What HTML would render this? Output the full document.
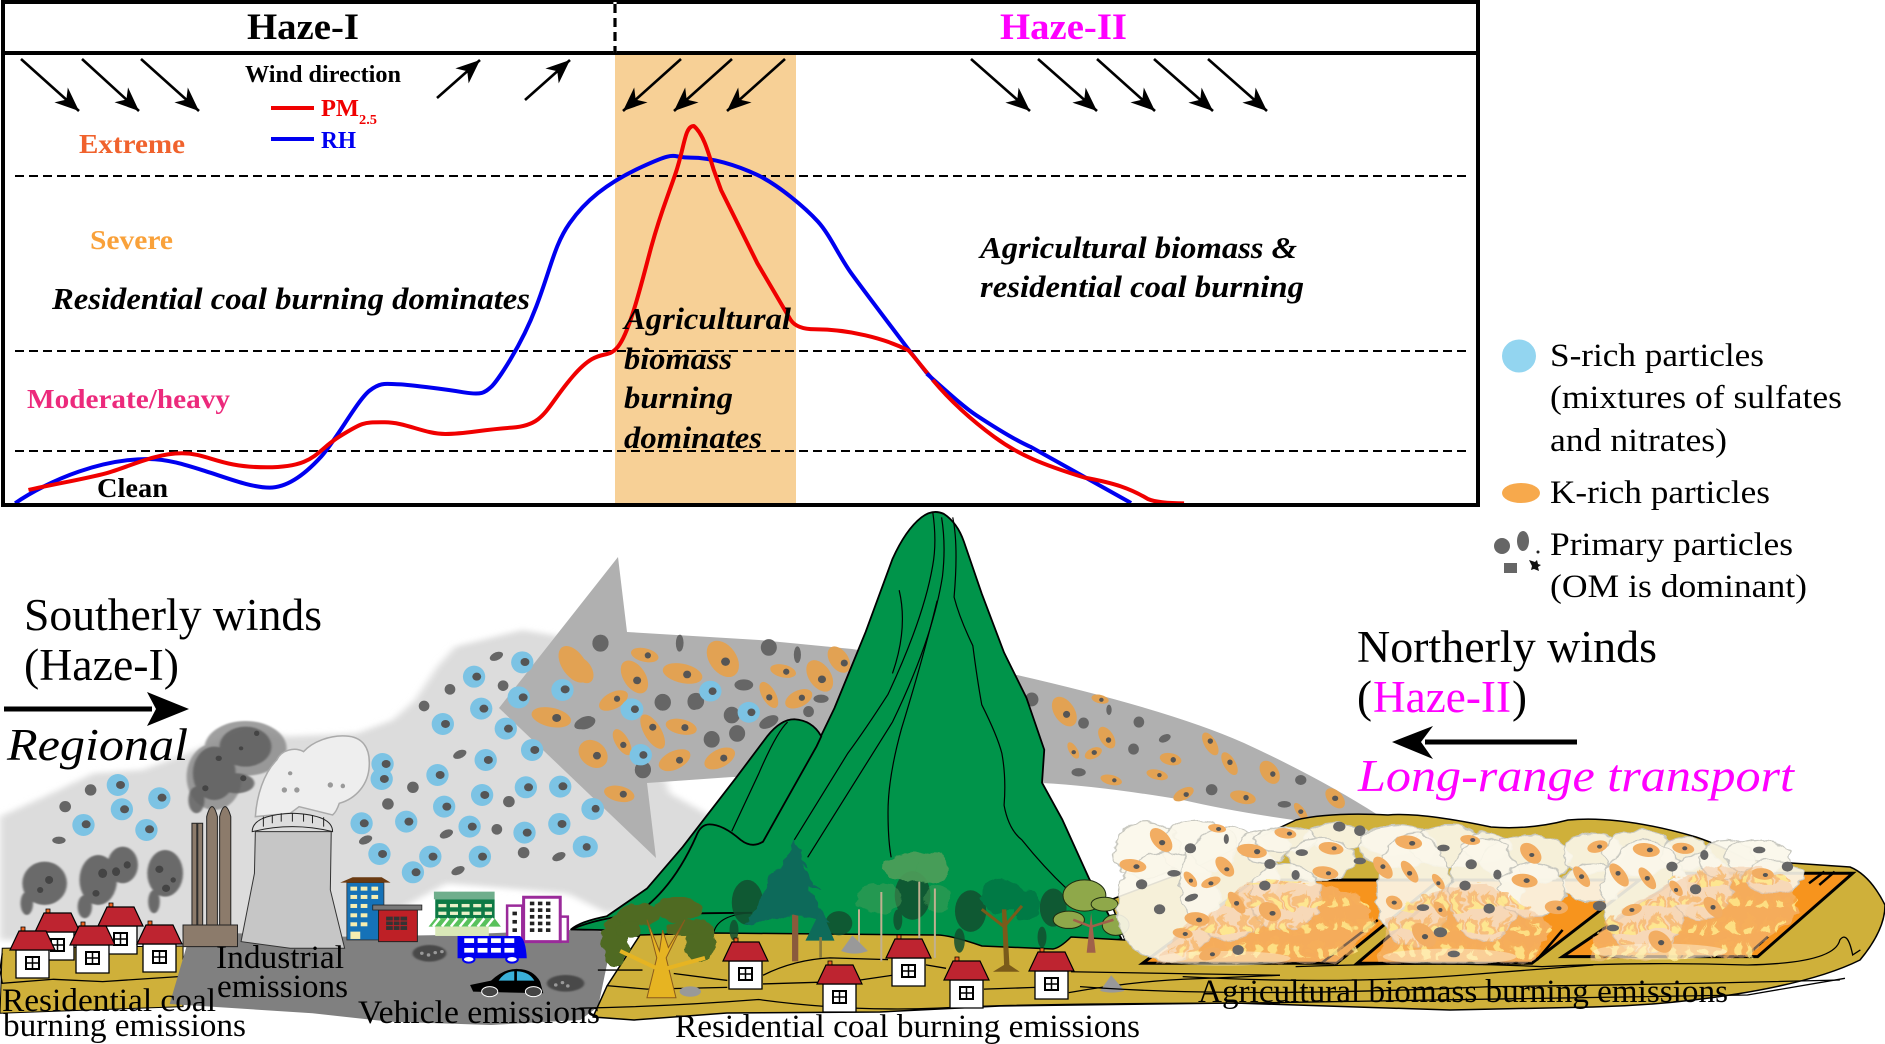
<!DOCTYPE html>
<html><head><meta charset="utf-8"><style>
html,body{margin:0;padding:0;background:#fff}
svg{display:block}
svg *{vector-effect:non-scaling-stroke}
text{font-family:"Liberation Serif",serif}
.bd{font-weight:bold}.it{font-style:italic}
.b{fill:#7cc3e4}.g{fill:#666}.k{fill:#e2a253}.d{fill:#555}.k2{fill:#f2ad62}
.ln{fill:none;stroke:#000;stroke-width:1.3}
.k ellipse,.k2 ellipse{transform-box:fill-box;transform-origin:center;transform:rotate(-22deg)}
.k ellipse.w,.k2 ellipse.w{transform:rotate(20deg)}
.k ellipse.s,.k2 ellipse.s,ellipse.s{transform-box:fill-box;transform-origin:center;transform:rotate(-40deg)}
</style></head><body>
<svg width="1885" height="1044" viewBox="0 0 1885 1044" xmlns="http://www.w3.org/2000/svg">
<defs>
<marker id="ah" markerUnits="userSpaceOnUse" markerWidth="26" markerHeight="26" refX="24" refY="13" orient="auto"><path d="M0,3 L24,13 L0,23 L7,13Z" fill="#000"/></marker>
<filter id="bl" x="-20%" y="-20%" width="140%" height="140%"><feGaussianBlur stdDeviation="9"/></filter>
<filter id="bs" x="-20%" y="-20%" width="140%" height="140%"><feGaussianBlur stdDeviation="2.5"/></filter>
<filter id="rg" x="-10%" y="-10%" width="120%" height="120%"><feTurbulence type="fractalNoise" baseFrequency=".035" numOctaves="2" seed="4"/><feDisplacementMap in="SourceGraphic" scale="22" xChannelSelector="R" yChannelSelector="G"/></filter>
<filter id="rf" x="-10%" y="-10%" width="120%" height="120%"><feTurbulence type="fractalNoise" baseFrequency=".02" numOctaves="3" seed="9"/><feDisplacementMap in="SourceGraphic" scale="55" xChannelSelector="R" yChannelSelector="G"/></filter>
<pattern id="fl" patternUnits="userSpaceOnUse" width="30" height="72"><path d="M2,72 Q0,45 10,30 Q12,45 16,20 Q20,45 24,32 Q30,50 28,72Z" fill="#f7b05a" opacity=".75"/><path d="M8,72 Q6,55 13,45 Q15,55 18,42 Q24,58 22,72Z" fill="#ffe98a"/></pattern>
<g id="h">
<rect x="6" y="19" width="33" height="28" fill="#fff" stroke="#000" stroke-width="1.3"/>
<rect x="11" y="-4" width="4" height="12" fill="#f26522" stroke="#000" stroke-width=".8"/>
<path d="M0,19 L9,0 L36,0 L45,19Z" fill="#be2430" stroke="#000" stroke-width="1.2"/>
<rect x="16" y="26" width="13" height="12" fill="#fff" stroke="#000" stroke-width="2"/>
<path d="M22.5,26V38M16,32H29" stroke="#000" stroke-width="1.5"/>
</g>
</defs>
<rect width="1885" height="1044" fill="#fff"/>

<!-- chart -->
<rect x="615" y="55" width="181" height="450" fill="#f7d096"/>
<g stroke="#000" stroke-width="2" stroke-dasharray="9 5" fill="none">
<path d="M15,176H1467M15,351H1467M15,451H1467"/>
</g>
<g transform="scale(.6059,.3333)" fill="none" stroke-linejoin="round">
<path stroke="#0000f0" stroke-width="4" d="M25,1510 C50,1478 90,1440 130,1415 S210,1377 245,1377 S315,1400 345,1417 S415,1463 445,1463 S505,1420 530,1370 S590,1200 610,1172 S640,1153 655,1153 S735,1168 765,1177 S800,1178 810,1162 S860,1040 885,920 S915,735 940,670 S1000,550 1060,500 S1105,473 1140,473 S1215,495 1250,525 S1330,625 1350,665 S1385,770 1405,820 S1475,990 1500,1050 L1530,1120"/>
<path stroke="#f00000" stroke-width="4" d="M47,1470 C90,1452 140,1437 175,1420 S255,1360 300,1360 S360,1402 440,1402 S520,1355 560,1310 S600,1267 635,1267 S700,1302 735,1302 S790,1290 845,1283 S900,1225 945,1130 S1000,1085 1020,1040 S1060,840 1075,740 S1100,600 1115,520 S1130,378 1145,378 C1160,400 1168,450 1178,510 L1190,570 L1250,790 L1305,960 Q1315,988 1345,988 C1400,988 1460,1015 1500,1052 L1540,1140"/>
</g>
<g transform="translate(940,0) scale(.6027,.3954)" fill="none" stroke-linejoin="round">
<path stroke="#0000f0" stroke-width="4" d="M-22,945 C15,995 40,1030 60,1050 S120,1110 150,1130 L317,1272"/>
<path stroke="#f00000" stroke-width="4" d="M-12,961 C15,1010 50,1060 90,1105 S170,1175 240,1208 C290,1222 315,1235 345,1262 Q362,1273 405,1273"/>
</g>
<rect x="3" y="2" width="1475" height="503" fill="none" stroke="#000" stroke-width="4"/>
<path d="M3,53H1478" stroke="#000" stroke-width="4"/>
<path d="M615,2V53" stroke="#fff" stroke-width="3.2"/>
<path d="M615,4V53" stroke="#000" stroke-width="3.2" stroke-dasharray="9 5"/>

<g stroke="#000" stroke-width="2.6">
<line x1="21" y1="59" x2="79" y2="111" marker-end="url(#ah)"/>
<line x1="82" y1="59" x2="139" y2="111" marker-end="url(#ah)"/>
<line x1="141" y1="59" x2="199" y2="111" marker-end="url(#ah)"/>
<line x1="437" y1="98" x2="480" y2="60" marker-end="url(#ah)"/>
<line x1="525" y1="100" x2="570" y2="60" marker-end="url(#ah)"/>
<line x1="681" y1="59" x2="623" y2="111" marker-end="url(#ah)"/>
<line x1="732" y1="59" x2="674" y2="111" marker-end="url(#ah)"/>
<line x1="785" y1="59" x2="727" y2="111" marker-end="url(#ah)"/>
<line x1="971" y1="59" x2="1030" y2="111" marker-end="url(#ah)"/>
<line x1="1038" y1="59" x2="1097" y2="111" marker-end="url(#ah)"/>
<line x1="1097" y1="59" x2="1155" y2="111" marker-end="url(#ah)"/>
<line x1="1154" y1="59" x2="1213" y2="111" marker-end="url(#ah)"/>
<line x1="1208" y1="59" x2="1267" y2="111" marker-end="url(#ah)"/>
</g>
<text class="bd" x="247" y="39" font-size="37" textLength="112" lengthAdjust="spacingAndGlyphs">Haze-I</text>
<text class="bd" x="1000" y="39" font-size="37" fill="#ff00ff" textLength="127" lengthAdjust="spacingAndGlyphs">Haze-II</text>
<text class="bd" x="245" y="82" font-size="24" textLength="156" lengthAdjust="spacingAndGlyphs">Wind direction</text>
<path d="M271,108H314" stroke="#f00000" stroke-width="4"/>
<path d="M271,139H314" stroke="#0000f0" stroke-width="4"/>
<text class="bd" x="321" y="116" font-size="24" fill="#f00000" textLength="38" lengthAdjust="spacingAndGlyphs">PM</text>
<text class="bd" x="359" y="124" font-size="14" fill="#f00000" textLength="18" lengthAdjust="spacingAndGlyphs">2.5</text>
<text class="bd" x="321" y="148" font-size="24" fill="#0000f0" textLength="35" lengthAdjust="spacingAndGlyphs">RH</text>
<text class="bd" x="79" y="153" font-size="27" fill="#f0622d" textLength="106" lengthAdjust="spacingAndGlyphs">Extreme</text>
<text class="bd" x="90" y="249" font-size="27" fill="#f9a13a" textLength="83" lengthAdjust="spacingAndGlyphs">Severe</text>
<text class="bd" x="27" y="408" font-size="27" fill="#ec2a7c" textLength="203" lengthAdjust="spacingAndGlyphs">Moderate/heavy</text>
<text class="bd" x="97" y="497" font-size="27" textLength="71" lengthAdjust="spacingAndGlyphs">Clean</text>
<g class="bd it" font-size="31">
<text class="bd it" x="52" y="309" textLength="478" lengthAdjust="spacingAndGlyphs">Residential coal burning dominates</text>
<text class="bd it" x="624" y="329" textLength="167" lengthAdjust="spacingAndGlyphs">Agricultural</text>
<text class="bd it" x="624" y="369" textLength="108" lengthAdjust="spacingAndGlyphs">biomass</text>
<text class="bd it" x="624" y="408" textLength="109" lengthAdjust="spacingAndGlyphs">burning</text>
<text class="bd it" x="624" y="448" textLength="138" lengthAdjust="spacingAndGlyphs">dominates</text>
<text class="bd it" x="980" y="258" textLength="317" lengthAdjust="spacingAndGlyphs">Agricultural biomass &amp;</text>
<text class="bd it" x="980" y="297" textLength="324" lengthAdjust="spacingAndGlyphs">residential coal burning</text>
</g>

<!-- legend -->
<ellipse cx="1519" cy="356" rx="17" ry="16.5" fill="#93d5f0"/>
<ellipse cx="1521" cy="493" rx="19" ry="10" fill="#f7a94c"/>
<ellipse cx="1502" cy="546" rx="8" ry="8" fill="#666"/>
<ellipse cx="1523" cy="541" rx="6" ry="10" fill="#666"/>
<circle cx="1538" cy="552" r="1.5" fill="#222"/>
<rect x="1504" y="563" width="13" height="10" fill="#666"/>
<path d="M1529,560l6,2 2,-2 1,4 3,1 -3,2 1,4 -5,-2 -3,1 1,-4z" fill="#111"/>
<g font-size="33">
<text x="1550" y="366" textLength="214" lengthAdjust="spacingAndGlyphs">S-rich particles</text>
<text x="1550" y="408" textLength="292" lengthAdjust="spacingAndGlyphs">(mixtures of sulfates</text>
<text x="1550" y="451" textLength="177" lengthAdjust="spacingAndGlyphs">and nitrates)</text>
<text x="1550" y="503" textLength="220" lengthAdjust="spacingAndGlyphs">K-rich particles</text>
<text x="1550" y="555" textLength="243" lengthAdjust="spacingAndGlyphs">Primary particles</text>
<text x="1550" y="597" textLength="257" lengthAdjust="spacingAndGlyphs">(OM is dominant)</text>
</g>

<!-- haze -->
<g transform="translate(0,540) scale(.4464,.3333)">
<polygon filter="url(#bl)" fill="#dcdcdc" points="0,830 100,770 210,700 320,690 420,640 560,560 640,590 800,580 880,540 930,480 980,380 1020,320 1170,270 1300,300 1420,450 1500,760 1620,850 1640,1010 1500,1080 1360,1120 1270,1060 1000,1030 770,1200 400,1200 0,1200"/>
</g>
<path d="M499,708 L618,557 L627,632 L759,640 L852,649 L1017,675 Q1170,710 1244,743 Q1320,778 1378,815 L1378,830 Q1260,818 1183,800 Q1100,786 1042,783 L900,777 L732,777 L647,783 L656,858Z" fill="#b0b0b0"/>

<!-- particles left -->
<g transform="translate(0,540) scale(.4464,.3333)">
<g class="g">
<ellipse cx="203" cy="750" rx="13" ry="17"/><ellipse cx="146" cy="800" rx="13" ry="17"/><ellipse cx="132" cy="901" rx="15" ry="11"/><ellipse cx="1008" cy="448" rx="12" ry="16"/><ellipse cx="950" cy="498" rx="12" ry="16"/><ellipse cx="1127" cy="437" rx="12" ry="16"/><ellipse class="s" cx="1112" cy="349" rx="17" ry="11"/><ellipse class="s" cx="1030" cy="643" rx="17" ry="11"/><ellipse cx="925" cy="742" rx="13" ry="17"/><ellipse cx="869" cy="792" rx="13" ry="17"/><ellipse cx="1140" cy="785" rx="13" ry="17"/><ellipse cx="1113" cy="868" rx="12" ry="16"/><ellipse class="s" cx="1000" cy="882" rx="17" ry="11"/><ellipse class="s" cx="819" cy="900" rx="17" ry="11"/><ellipse cx="1173" cy="938" rx="13" ry="17"/><ellipse class="s" cx="1252" cy="950" rx="17" ry="11"/><ellipse class="s" cx="1026" cy="992" rx="17" ry="11"/>
<ellipse cx="1345" cy="310" rx="18" ry="25"/><ellipse cx="1522" cy="310" rx="8" ry="25"/><ellipse cx="1485" cy="487" rx="18" ry="25"/><ellipse class="s" cx="1308" cy="548" rx="25" ry="15"/><ellipse cx="1555" cy="485" rx="15" ry="25"/>
</g>
<g class="k">
<ellipse cx="1285" cy="373" rx="28" ry="58"/><ellipse class="w" cx="1443" cy="345" rx="30" ry="18"/><ellipse cx="1420" cy="410" rx="24" ry="50"/><ellipse class="w" cx="1525" cy="400" rx="42" ry="25"/><ellipse class="s" cx="1375" cy="480" rx="36" ry="20"/><ellipse class="w" cx="1235" cy="532" rx="46" ry="28"/><ellipse cx="1462" cy="575" rx="20" ry="55"/><ellipse class="w" cx="1525" cy="560" rx="35" ry="22"/><ellipse cx="1393" cy="607" rx="15" ry="40"/><ellipse cx="1328" cy="642" rx="30" ry="42"/><ellipse class="s" cx="1510" cy="660" rx="40" ry="24"/><ellipse class="w" cx="1387" cy="762" rx="35" ry="21"/>
</g>
<g class="d">
<ellipse cx="1293" cy="384" rx="10" ry="13"/><ellipse cx="1451" cy="346" rx="7" ry="9"/><ellipse cx="1427" cy="422" rx="10" ry="12"/><ellipse cx="1539" cy="402" rx="10" ry="12"/><ellipse cx="1382" cy="477" rx="8" ry="10"/><ellipse cx="1247" cy="534" rx="10" ry="12"/><ellipse cx="1462" cy="562" rx="8" ry="10"/><ellipse cx="1538" cy="558" rx="8" ry="10"/><ellipse cx="1396" cy="614" rx="7" ry="9"/><ellipse cx="1337" cy="648" rx="9" ry="12"/><ellipse cx="1522" cy="660" rx="8" ry="10"/><ellipse cx="1396" cy="763" rx="8" ry="10"/>
</g>
<g class="b">
<ellipse cx="264" cy="735" rx="25" ry="33"/><ellipse cx="357" cy="775" rx="25" ry="33"/><ellipse cx="273" cy="808" rx="25" ry="33"/><ellipse cx="187" cy="855" rx="25" ry="33"/><ellipse cx="328" cy="870" rx="25" ry="33"/><ellipse cx="1170" cy="367" rx="25" ry="33"/><ellipse cx="1062" cy="410" rx="25" ry="33"/><ellipse cx="1162" cy="472" rx="25" ry="33"/><ellipse cx="1260" cy="450" rx="25" ry="33"/><ellipse cx="1078" cy="506" rx="25" ry="33"/><ellipse cx="992" cy="552" rx="25" ry="33"/><ellipse cx="1133" cy="566" rx="25" ry="33"/><ellipse cx="1192" cy="630" rx="25" ry="33"/><ellipse cx="1088" cy="660" rx="25" ry="33"/><ellipse cx="980" cy="705" rx="25" ry="33"/><ellipse cx="1080" cy="765" rx="25" ry="33"/><ellipse cx="1255" cy="740" rx="25" ry="33"/><ellipse cx="995" cy="800" rx="25" ry="33"/><ellipse cx="1178" cy="742" rx="25" ry="33"/><ellipse cx="1052" cy="860" rx="25" ry="33"/><ellipse cx="1253" cy="852" rx="25" ry="33"/><ellipse cx="1175" cy="878" rx="25" ry="33"/><ellipse cx="910" cy="845" rx="25" ry="33"/><ellipse cx="810" cy="850" rx="25" ry="33"/><ellipse cx="850" cy="942" rx="25" ry="33"/><ellipse cx="964" cy="950" rx="25" ry="33"/><ellipse cx="1075" cy="950" rx="25" ry="33"/><ellipse cx="925" cy="997" rx="25" ry="33"/><ellipse cx="1308" cy="920" rx="25" ry="33"/><ellipse cx="1328" cy="807" rx="25" ry="33"/><ellipse cx="1415" cy="508" rx="25" ry="33"/><ellipse cx="1435" cy="645" rx="25" ry="33"/><ellipse cx="857" cy="672" rx="25" ry="33"/><ellipse cx="855" cy="717" rx="25" ry="33"/>
</g>
<ellipse cx="1440" cy="690" rx="18" ry="25" class="g"/>
<g class="d">
<ellipse cx="270" cy="735" rx="10" ry="12"/><ellipse cx="363" cy="773" rx="10" ry="12"/><ellipse cx="279" cy="808" rx="10" ry="12"/><ellipse cx="193" cy="853" rx="10" ry="12"/><ellipse cx="335" cy="868" rx="10" ry="12"/><ellipse cx="1176" cy="366" rx="10" ry="12"/><ellipse cx="1068" cy="410" rx="10" ry="12"/><ellipse cx="1172" cy="472" rx="10" ry="12"/><ellipse cx="1266" cy="448" rx="10" ry="12"/><ellipse cx="1084" cy="506" rx="10" ry="12"/><ellipse cx="998" cy="552" rx="10" ry="12"/><ellipse cx="1139" cy="566" rx="10" ry="12"/><ellipse cx="1198" cy="630" rx="10" ry="12"/><ellipse cx="1094" cy="660" rx="10" ry="12"/><ellipse cx="986" cy="705" rx="10" ry="12"/><ellipse cx="1086" cy="765" rx="10" ry="12"/><ellipse cx="1261" cy="739" rx="10" ry="12"/><ellipse cx="1001" cy="800" rx="10" ry="12"/><ellipse cx="1184" cy="742" rx="10" ry="12"/><ellipse cx="1058" cy="860" rx="10" ry="12"/><ellipse cx="1259" cy="852" rx="10" ry="12"/><ellipse cx="1181" cy="878" rx="10" ry="12"/><ellipse cx="916" cy="845" rx="10" ry="12"/><ellipse cx="816" cy="850" rx="10" ry="12"/><ellipse cx="857" cy="942" rx="10" ry="12"/><ellipse cx="970" cy="950" rx="10" ry="12"/><ellipse cx="1081" cy="950" rx="10" ry="12"/><ellipse cx="932" cy="997" rx="10" ry="12"/><ellipse cx="1314" cy="920" rx="10" ry="12"/><ellipse cx="1334" cy="807" rx="10" ry="12"/><ellipse cx="1423" cy="508" rx="10" ry="12"/><ellipse cx="1441" cy="645" rx="10" ry="12"/><ellipse cx="865" cy="672" rx="10" ry="12"/><ellipse cx="861" cy="717" rx="10" ry="12"/>
</g>
</g>

<!-- particles on arrow -->
<g transform="translate(580,500) scale(.4464,.3469)">
<g class="g">
<ellipse cx="46" cy="412" rx="18" ry="24"/><ellipse cx="224" cy="412" rx="8" ry="24"/><ellipse cx="423" cy="425" rx="18" ry="24"/><ellipse cx="487" cy="446" rx="8" ry="24"/><ellipse cx="367" cy="533" rx="21" ry="16"/><ellipse cx="185" cy="583" rx="18" ry="24"/><ellipse cx="260" cy="580" rx="18" ry="24"/><ellipse cx="540" cy="573" rx="17" ry="12"/><ellipse cx="512" cy="610" rx="12" ry="16"/><ellipse cx="340" cy="620" rx="18" ry="24"/><ellipse class="s" cx="423" cy="640" rx="25" ry="15"/><ellipse cx="352" cy="673" rx="18" ry="24"/><ellipse cx="295" cy="690" rx="18" ry="24"/><ellipse cx="141" cy="777" rx="18" ry="24"/><ellipse class="s" cx="15" cy="643" rx="22" ry="15"/>
<ellipse cx="1012" cy="575" rx="15" ry="20"/><ellipse cx="1185" cy="605" rx="6" ry="15"/><ellipse cx="1128" cy="643" rx="12" ry="16"/><ellipse cx="1252" cy="640" rx="12" ry="16"/><ellipse class="s" cx="1310" cy="687" rx="15" ry="10"/><ellipse cx="1240" cy="718" rx="12" ry="16"/><ellipse cx="1117" cy="785" rx="16" ry="12"/><ellipse cx="1415" cy="835" rx="13" ry="16"/>
</g>
<g class="k">
<ellipse class="w" cx="145" cy="447" rx="32" ry="19"/><ellipse cx="122" cy="510" rx="26" ry="50"/><ellipse class="w" cx="230" cy="500" rx="46" ry="27"/><ellipse cx="320" cy="458" rx="32" ry="55"/><ellipse class="w" cx="455" cy="493" rx="30" ry="18"/><ellipse cx="537" cy="507" rx="26" ry="48"/><ellipse cx="580" cy="460" rx="22" ry="40"/><ellipse class="s" cx="75" cy="578" rx="38" ry="22"/><ellipse cx="163" cy="668" rx="20" ry="52"/><ellipse class="w" cx="228" cy="654" rx="35" ry="21"/><ellipse cx="95" cy="698" rx="15" ry="40"/><ellipse cx="30" cy="732" rx="30" ry="42"/><ellipse class="s" cx="213" cy="750" rx="40" ry="24"/><ellipse class="s" cx="313" cy="745" rx="40" ry="24"/><ellipse class="w" cx="88" cy="847" rx="35" ry="22"/><ellipse cx="423" cy="562" rx="16" ry="40"/><ellipse class="s" cx="490" cy="573" rx="35" ry="22"/><ellipse cx="5" cy="490" rx="22" ry="40"/>
<ellipse cx="1085" cy="610" rx="24" ry="45"/><ellipse class="w" cx="1165" cy="574" rx="20" ry="12"/><ellipse cx="1180" cy="685" rx="16" ry="33"/><ellipse cx="1105" cy="722" rx="10" ry="25"/><ellipse class="s" cx="1150" cy="730" rx="22" ry="14"/><ellipse cx="1412" cy="703" rx="14" ry="35"/><ellipse class="w" cx="1323" cy="747" rx="25" ry="17"/><ellipse cx="1455" cy="760" rx="14" ry="35"/><ellipse cx="1545" cy="785" rx="20" ry="35"/><ellipse class="w" cx="1190" cy="807" rx="25" ry="14"/><ellipse class="w" cx="1293" cy="792" rx="25" ry="14"/><ellipse class="s" cx="1352" cy="848" rx="27" ry="15"/><ellipse class="w" cx="1485" cy="857" rx="30" ry="18"/>
</g>
<g class="b">
<ellipse cx="292" cy="551" rx="25" ry="30"/><ellipse cx="117" cy="603" rx="25" ry="30"/><ellipse cx="378" cy="612" rx="25" ry="30"/><ellipse cx="136" cy="735" rx="25" ry="30"/><ellipse cx="28" cy="890" rx="25" ry="30"/><ellipse cx="15" cy="1000" rx="25" ry="30"/>
</g>
<g class="d">
<ellipse cx="152" cy="448" rx="7" ry="9"/><ellipse cx="128" cy="520" rx="9" ry="11"/><ellipse cx="240" cy="503" rx="9" ry="11"/><ellipse cx="326" cy="466" rx="10" ry="12"/><ellipse cx="462" cy="495" rx="7" ry="9"/><ellipse cx="542" cy="517" rx="9" ry="11"/><ellipse cx="592" cy="470" rx="8" ry="10"/><ellipse cx="83" cy="573" rx="7" ry="9"/><ellipse cx="163" cy="655" rx="8" ry="10"/><ellipse cx="235" cy="656" rx="8" ry="10"/><ellipse cx="97" cy="706" rx="7" ry="9"/><ellipse cx="38" cy="737" rx="9" ry="11"/><ellipse cx="223" cy="750" rx="8" ry="10"/><ellipse cx="322" cy="744" rx="8" ry="10"/><ellipse cx="97" cy="848" rx="8" ry="10"/><ellipse cx="424" cy="569" rx="7" ry="9"/><ellipse cx="497" cy="570" rx="7" ry="9"/>
<ellipse cx="297" cy="551" rx="9" ry="11"/><ellipse cx="123" cy="603" rx="9" ry="11"/><ellipse cx="384" cy="612" rx="9" ry="11"/><ellipse cx="142" cy="735" rx="9" ry="11"/><ellipse cx="35" cy="890" rx="9" ry="11"/><ellipse cx="15" cy="1000" rx="9" ry="11"/>
<ellipse cx="1090" cy="618" rx="8" ry="10"/><ellipse cx="1168" cy="576" rx="5" ry="6"/><ellipse cx="1184" cy="692" rx="6" ry="8"/><ellipse cx="1106" cy="727" rx="5" ry="6"/><ellipse cx="1152" cy="728" rx="6" ry="7"/><ellipse cx="1412" cy="695" rx="6" ry="8"/><ellipse cx="1329" cy="749" rx="6" ry="8"/><ellipse cx="1456" cy="756" rx="6" ry="8"/><ellipse cx="1552" cy="790" rx="6" ry="8"/><ellipse cx="1197" cy="808" rx="5" ry="6"/><ellipse cx="1298" cy="793" rx="5" ry="6"/><ellipse cx="1358" cy="849" rx="6" ry="7"/><ellipse cx="1492" cy="858" rx="6" ry="8"/>
</g>
</g>
<g transform="translate(1080,620) scale(.5134,.3333)">
<g class="k"><ellipse cx="497" cy="535" rx="16" ry="32"/><ellipse cx="430" cy="575" rx="9" ry="28"/></g>
<ellipse cx="430" cy="480" rx="11" ry="15" class="g"/><ellipse cx="398" cy="553" rx="13" ry="10" class="g"/>
<ellipse cx="497" cy="535" rx="6" ry="8" class="d"/><ellipse cx="430" cy="575" rx="5" ry="7" class="d"/>
</g>

<!-- industrial and stacks -->
<g transform="translate(0,540) scale(.4464,.3333)">
<!-- dark smoke -->
<g fill="#888" opacity=".8" filter="url(#bs)">
<ellipse cx="550" cy="625" rx="92" ry="82"/><ellipse cx="480" cy="710" rx="62" ry="100"/>
</g>
<g fill="#5e5e5e" opacity=".85" filter="url(#bs)">
<ellipse cx="550" cy="620" rx="58" ry="60"/><ellipse cx="480" cy="700" rx="48" ry="80"/><ellipse cx="440" cy="780" rx="18" ry="40"/><ellipse cx="530" cy="730" rx="40" ry="30"/>
</g>
<g fill="#6a6a6a" filter="url(#bs)">
<ellipse cx="100" cy="1030" rx="50" ry="65"/><ellipse cx="60" cy="1090" rx="14" ry="35"/>
<ellipse cx="220" cy="1020" rx="42" ry="75"/><ellipse cx="275" cy="975" rx="34" ry="55"/><ellipse cx="190" cy="1100" rx="16" ry="35"/>
<ellipse cx="370" cy="1000" rx="40" ry="70"/><ellipse cx="345" cy="1085" rx="13" ry="35"/>
</g>
<g fill="#444">
<ellipse cx="575" cy="580" rx="6" ry="8"/><ellipse cx="540" cy="625" rx="5" ry="6"/><ellipse cx="490" cy="655" rx="7" ry="8"/><ellipse cx="545" cy="715" rx="7" ry="9"/><ellipse cx="460" cy="745" rx="7" ry="9"/>
<ellipse cx="110" cy="1020" rx="9" ry="12"/><ellipse cx="90" cy="1050" rx="7" ry="9"/><ellipse cx="230" cy="1000" rx="10" ry="14"/><ellipse cx="260" cy="995" rx="9" ry="13"/><ellipse cx="285" cy="975" rx="8" ry="11"/><ellipse cx="215" cy="1060" rx="8" ry="10"/><ellipse cx="357" cy="988" rx="9" ry="11"/><ellipse cx="372" cy="1045" rx="9" ry="11"/><ellipse cx="388" cy="1020" rx="6" ry="8"/>
</g>
<!-- steam -->
<path d="M572,830 C575,770 590,700 620,660 C630,630 660,620 680,635 C700,605 740,585 775,588 C810,590 830,620 827,680 C825,730 800,775 760,790 C755,810 750,820 745,825 L670,800 L650,820Z" fill="#eeeeee" stroke="#aaa" stroke-width="1.5"/>
<g fill="#999"><ellipse cx="637" cy="750" rx="6" ry="8"/><ellipse cx="665" cy="750" rx="6" ry="8"/><ellipse cx="740" cy="735" rx="6" ry="8"/><ellipse cx="768" cy="738" rx="5" ry="7"/><ellipse cx="650" cy="700" rx="5" ry="6"/></g>
<!-- ground left -->
<path d="M5,1225 L410,1218 L410,1400 L0,1420Z" fill="#cfb03a" stroke="#000" stroke-width="1"/>
<polyline class="ln" points="5,1240 0,1290 5,1330 120,1318 230,1325 400,1310"/>
<!-- road -->
<path d="M420,1210 L530,1180 L770,1190 L1000,1185 L1280,1170 L1375,1175 L1340,1400 L1300,1440 L1100,1455 L870,1445 L700,1420 L380,1392Z" fill="#808080"/>
<!-- stacks -->
<g fill="#8c7b6b" stroke="#222" stroke-width="1">
<rect x="430" y="850" width="11" height="310"/><rect x="443" y="850" width="11" height="310"/>
<path d="M463,1160 L463,830 Q475,770 487,830 L487,1160Z"/><path d="M492,1160 L492,830 Q504,770 517,830 L517,1160Z"/>
<rect x="410" y="1155" width="122" height="65"/>
</g>
<!-- tower -->
<path d="M572,875 L570,1000 L540,1205 L650,1225 L772,1225 L740,1050 L742,875Z" fill="#c6c6c6" stroke="#333" stroke-width="1"/>
<path d="M565,875 Q565,825 655,820 Q745,825 745,875 Q655,845 565,875Z" fill="#ddd" stroke="#222" stroke-width="1"/>
<path d="M590,860V830M610,850V825M630,845V820M655,845V820M680,845V822M700,850V825M725,860V832" stroke="#222" stroke-width="1"/>
<!-- blue building -->
<rect x="777" y="1028" width="83" height="172" fill="#1572b8" stroke="#333" stroke-width=".8"/>
<path d="M762,1028 L790,1012 L855,1012 L875,1028Z" fill="#6b3b12"/>
<g fill="#f6edb0"><rect x="785" y="1040" width="15" height="12"/><rect x="808" y="1040" width="15" height="12"/><rect x="832" y="1040" width="15" height="12"/><rect x="785" y="1065" width="15" height="12"/><rect x="808" y="1065" width="15" height="12"/><rect x="832" y="1065" width="15" height="12"/><rect x="785" y="1092" width="15" height="12"/><rect x="808" y="1092" width="15" height="12"/><rect x="785" y="1120" width="15" height="12"/><rect x="808" y="1120" width="15" height="12"/><rect x="785" y="1147" width="15" height="12"/><rect x="808" y="1147" width="15" height="12"/><rect x="785" y="1175" width="22" height="22"/></g>
<!-- red building -->
<rect x="848" y="1110" width="87" height="95" fill="#be2026" stroke="#222" stroke-width="1"/>
<rect x="835" y="1095" width="110" height="15" fill="#777" stroke="#222" stroke-width=".8"/>
<rect x="865" y="1130" width="47" height="40" fill="#333"/>
<path d="M865,1143H912M865,1157H912M881,1130V1170M896,1130V1170" stroke="#be2026" stroke-width="1"/>
<!-- green building -->
<rect x="972" y="1055" width="136" height="23" fill="#6fae8c"/>
<rect x="975" y="1078" width="133" height="57" fill="#0d7a45"/>
<g fill="#e9f0c8"><rect x="982" y="1092" width="18" height="10"/><rect x="1008" y="1092" width="18" height="10"/><rect x="1034" y="1092" width="18" height="10"/><rect x="1060" y="1092" width="18" height="10"/><rect x="1086" y="1092" width="16" height="10"/><rect x="982" y="1115" width="18" height="10"/><rect x="1008" y="1115" width="18" height="10"/><rect x="1034" y="1115" width="18" height="10"/><rect x="1060" y="1115" width="18" height="10"/><rect x="1086" y="1115" width="16" height="10"/></g>
<path d="M960,1160 L975,1135 L1108,1135 L1122,1160Z" fill="#58c15c"/>
<path d="M985,1135L970,1160M1005,1135L990,1160M1025,1135L1010,1160M1045,1135L1030,1160M1065,1135L1050,1160M1085,1135L1070,1160M1105,1135L1090,1160" stroke="#fff" stroke-width="2.5"/>
<rect x="975" y="1160" width="120" height="28" fill="#d9e8b8"/>
<!-- purple -->
<rect x="1136" y="1097" width="34" height="108" fill="#fff" stroke="#9a2a9a" stroke-width="2.5"/>
<rect x="1255" y="1130" width="17" height="75" fill="#fff" stroke="#9a2a9a" stroke-width="2.5"/>
<rect x="1173" y="1072" width="82" height="133" fill="#fff" stroke="#9a2a9a" stroke-width="3"/>
<g fill="#222"><rect x="1187" y="1085" width="10" height="11"/><rect x="1205" y="1085" width="10" height="11"/><rect x="1223" y="1085" width="10" height="11"/><rect x="1187" y="1105" width="10" height="11"/><rect x="1205" y="1105" width="10" height="11"/><rect x="1223" y="1105" width="10" height="11"/><rect x="1187" y="1125" width="10" height="11"/><rect x="1205" y="1125" width="10" height="11"/><rect x="1223" y="1125" width="10" height="11"/><rect x="1187" y="1145" width="10" height="11"/><rect x="1205" y="1145" width="10" height="11"/><rect x="1223" y="1145" width="10" height="11"/><rect x="1187" y="1165" width="10" height="11"/><rect x="1205" y="1165" width="10" height="11"/><rect x="1223" y="1165" width="10" height="11"/><rect x="1148" y="1115" width="10" height="11"/><rect x="1148" y="1140" width="10" height="11"/><rect x="1148" y="1165" width="10" height="11"/></g>
<!-- bus -->
<path d="M1025,1188 H1165 Q1178,1200 1180,1255 H1025Z" fill="#0000f0"/>
<g fill="#fff"><rect x="1040" y="1195" width="22" height="14"/><rect x="1070" y="1195" width="22" height="14"/><rect x="1100" y="1195" width="22" height="14"/><rect x="1130" y="1195" width="22" height="14"/><rect x="1040" y="1224" width="22" height="14"/><rect x="1070" y="1224" width="22" height="14"/><rect x="1100" y="1224" width="22" height="14"/><rect x="1130" y="1224" width="22" height="14"/></g>
<ellipse cx="1050" cy="1258" rx="13" ry="10" fill="#fff" stroke="#0000f0" stroke-width="2"/><ellipse cx="1147" cy="1258" rx="13" ry="10" fill="#fff" stroke="#0000f0" stroke-width="2"/>
<!-- car -->
<path d="M1053,1335 L1100,1322 Q1130,1285 1160,1287 Q1195,1288 1210,1325 L1217,1360 L1060,1355Z" fill="#000"/>
<path d="M1117,1322 Q1130,1295 1152,1294 V1322Z M1158,1294 Q1185,1295 1197,1322 H1158Z" fill="#3ab0d8"/>
<ellipse cx="1097" cy="1355" rx="18" ry="15" fill="#444" stroke="#fff" stroke-width="1"/><ellipse cx="1195" cy="1355" rx="18" ry="15" fill="#444" stroke="#fff" stroke-width="1"/>
<!-- exhaust -->
<ellipse cx="962" cy="1240" rx="38" ry="25" fill="#4a4a4a" filter="url(#bs)"/>
<ellipse cx="1267" cy="1330" rx="42" ry="25" fill="#4a4a4a" filter="url(#bs)"/>
<g fill="#999"><ellipse cx="945" cy="1240" rx="4" ry="5"/><ellipse cx="960" cy="1245" rx="4" ry="5"/><ellipse cx="975" cy="1238" rx="4" ry="5"/><ellipse cx="990" cy="1235" rx="4" ry="5"/><ellipse cx="1245" cy="1335" rx="4" ry="5"/><ellipse cx="1260" cy="1328" rx="4" ry="5"/><ellipse cx="1272" cy="1338" rx="4" ry="5"/></g>
</g>

<!-- mountain, ground, trees -->
<g transform="translate(580,500) scale(.4464,.3469)">
<path d="M-20,1238 Q0,1215 60,1200 L150,1120 L230,1000 L290,900 L350,800 L420,680 Q450,632 480,632 Q520,635 540,680 L570,600 L640,380 L700,170 Q730,85 765,50 Q790,25 815,40 Q845,65 860,120 L900,270 L950,440 L1000,570 L1040,720 L1035,815 L1080,920 L1140,1090 L1213,1265 L1100,1300 L300,1300 L60,1240Z" fill="#00944a" stroke="#000" stroke-width="1.8" stroke-linejoin="round"/>
<g fill="none" stroke="#000" stroke-width="1.2">
<path stroke-width="1.8" d="M150,1170 Q215,1100 260,970 Q270,935 290,935 Q320,935 360,980 Q385,1005 410,985 L460,870 L530,710 L541,680"/>
<path d="M340,955 L400,790 Q440,670 465,640"/>
<path d="M790,33 Q800,120 790,190 Q770,340 690,560 Q640,660 600,730 L480,980"/>
<path d="M810,50 Q820,130 812,220 Q790,400 700,640 L510,1030"/>
<path d="M715,260 Q735,370 700,500"/>
<path d="M835,50 Q848,130 838,280 Q850,340 880,420 Q890,520 900,590 Q935,680 945,730 Q955,800 950,880 Q960,950 990,980 Q1040,1060 1090,1120"/>
<path d="M800,290 Q770,450 720,660 Q690,800 690,900 Q690,980 697,1030"/>
<path stroke-width="1.8" d="M-20,1238 Q60,1195 160,1195 Q300,1190 385,1190"/>
<path d="M300,1245 Q310,1195 385,1190"/>
</g>
</g>
<path d="M607,986 L593,1017 L634,1020 L727,1013 L880,1012 L1000,1006 L1234,1003 L1450,1010 L1593,1007 C1680,1005 1800,990 1860,960 Q1885,930 1885,905 Q1870,875 1850,867 L1747,860 Q1720,845 1696,837 Q1620,815 1568,820 Q1530,830 1491,827 Q1420,812 1388,815 Q1330,812 1296,820 L1190,870 L1110,900 L1125,940 L1071,937 Q1060,948 1053,949 L982,946 Q950,935 937,935 L714,933 L640,935Z" fill="#cfb03a" stroke="#000" stroke-width="1.5" stroke-linejoin="round"/>
<g transform="translate(580,500) scale(.4464,.3469)">
<polyline class="ln" points="40,1355 140,1355"/><polyline class="ln" points="210,1365 330,1385"/><polyline class="ln" points="60,1400 150,1410 330,1405"/><path class="ln" d="M410,1370 Q480,1325 560,1320 L690,1325"/><polyline class="ln" points="410,1395 540,1390"/><polyline class="ln" points="620,1385 700,1370"/><polyline class="ln" points="775,1340 820,1350"/><polyline class="ln" points="905,1410 1020,1405"/><path class="ln" d="M1095,1420 Q1250,1385 1380,1380 L1568,1370"/><path class="ln" d="M0,1465 Q200,1460 400,1440 Q600,1475 800,1465 Q1000,1450 1568,1450"/><polyline class="ln" points="1100,1360 1568,1370"/>
<!-- tree yellow -->
<g fill="#4f6b24" filter="url(#rg)"><ellipse cx="80" cy="1270" rx="30" ry="75"/><ellipse cx="130" cy="1195" rx="50" ry="32"/><ellipse cx="220" cy="1180" rx="55" ry="35"/><ellipse cx="270" cy="1270" rx="35" ry="60"/><ellipse cx="230" cy="1235" rx="40" ry="22"/><ellipse cx="110" cy="1240" rx="30" ry="22"/></g>
<path d="M150,1210 L172,1320 L150,1435 L215,1435 L193,1320 L235,1210 L198,1290 L185,1240 L178,1300Z" fill="#e6b422" stroke="#8a5a1c" stroke-width="1"/>
<path d="M90,1300 L172,1350 M280,1320 L195,1350" stroke="#e6b422" stroke-width="4"/>
<ellipse cx="247" cy="1417" rx="24" ry="15" fill="#999"/>
<!-- smoke -->
<g fill="#124f30" opacity=".85">
<ellipse cx="375" cy="1160" rx="35" ry="65"/><ellipse cx="345" cy="1240" rx="10" ry="30"/>
<ellipse cx="745" cy="1140" rx="40" ry="70"/><ellipse cx="712" cy="1210" rx="10" ry="30"/>
<ellipse cx="875" cy="1185" rx="35" ry="60"/><ellipse cx="850" cy="1270" rx="12" ry="35"/>
<ellipse cx="1060" cy="1175" rx="30" ry="55"/><ellipse cx="1035" cy="1260" rx="10" ry="30"/>
<ellipse cx="580" cy="1220" rx="30" ry="35"/>
</g>
<!-- dark green tree -->
<g fill="#007a45" filter="url(#rg)"><ellipse cx="945" cy="1140" rx="50" ry="50"/><ellipse cx="1000" cy="1170" rx="30" ry="45"/></g>
<path d="M945,1180 L950,1340 L925,1360 L985,1360 L962,1340 L955,1180Z" fill="#7a5a1a"/>
<path d="M900,1180 L950,1230 L990,1170" stroke="#7a5a1a" stroke-width="3" fill="none"/>
<!-- pine -->
<rect x="475" y="1180" width="14" height="150" fill="#8a5a3c"/>
<path d="M480,980 L510,1060 L495,1055 L535,1120 L510,1115 L560,1220 L520,1210 L480,1195 L440,1210 L365,1225 L410,1150 L425,1075 L450,1060Z" fill="#0e6b5a" filter="url(#rg)"/>
<path d="M540,1180 L570,1270 L505,1270Z" fill="#0e6b5a"/>
<rect x="536" y="1260" width="6" height="60" fill="#8a7a3c"/>
<!-- birch -->
<g fill="#4f9e5a" opacity=".9" filter="url(#rg)"><ellipse cx="745" cy="1060" rx="65" ry="40"/><ellipse cx="790" cy="1060" rx="35" ry="45"/><ellipse cx="670" cy="1150" rx="50" ry="45" opacity=".5"/><ellipse cx="800" cy="1150" rx="30" ry="40" opacity=".5"/></g>
<g stroke="#c0b090" stroke-width="2" fill="none"><path d="M760,1100V1320M675,1130V1330M625,1180V1300M795,1120V1320"/></g>
<path d="M585,1300 L610,1255 L645,1300 Q615,1315 585,1300Z" fill="#999"/>
<!-- round tree -->
<g fill="#8fa84a" stroke="#1d2b10" stroke-width="1">
<ellipse cx="1130" cy="1140" rx="48" ry="45"/><ellipse cx="1175" cy="1165" rx="30" ry="20"/><ellipse cx="1095" cy="1210" rx="35" ry="25"/><ellipse cx="1200" cy="1225" rx="30" ry="30"/>
</g>
<path d="M1135,1305 L1145,1190 L1155,1305Z" fill="#a0604a"/>
<path d="M1105,1210 L1145,1230 L1195,1210" stroke="#a0604a" stroke-width="2.5" fill="none"/>
<path d="M1165,1415 L1190,1370 L1220,1415 Q1190,1425 1165,1415Z" fill="#999"/>
</g>
<use href="#h" x="723" y="942"/><use href="#h" x="817" y="965"/><use href="#h" x="886" y="939"/><use href="#h" x="944" y="961"/><use href="#h" x="1029" y="952"/>
<use href="#h" x="35" y="913"/><use href="#h" x="98" y="907"/><use href="#h" x="10" y="931"/><use href="#h" x="70" y="926"/><use href="#h" x="137" y="925"/>

<!-- fire region -->
<g transform="translate(1080,620) scale(.5134,.3333)">
<g fill="#f7941d" stroke="#000" stroke-width="3">
<polygon points="122,1030 500,1030 700,780 340,780"/>
<polygon points="540,1030 880,1030 1090,780 730,780"/>
<polygon points="940,1010 1320,1010 1505,760 1180,760"/>
</g>
<g stroke="#000" stroke-width="2.5"><path d="M470,1030L580,900M890,1020L940,930M1300,1005L1340,950M1420,790L1450,755M1440,795L1470,755"/></g>
<g fill="#fbf7ea" stroke="#c8c8c0" stroke-width="1.3" fill-opacity=".9" filter="url(#rg)">
<ellipse cx="500" cy="650" rx="60" ry="40"/><ellipse cx="610" cy="660" rx="60" ry="45"/>
<ellipse cx="130" cy="690" rx="65" ry="85"/><ellipse cx="230" cy="680" rx="75" ry="78"/><ellipse cx="170" cy="860" rx="100" ry="165"/><ellipse cx="290" cy="790" rx="95" ry="170"/><ellipse cx="360" cy="680" rx="50" ry="50"/><ellipse cx="400" cy="660" rx="60" ry="38"/><ellipse cx="470" cy="720" rx="65" ry="65"/><ellipse cx="400" cy="830" rx="70" ry="100"/>
<ellipse cx="620" cy="680" rx="75" ry="65"/><ellipse cx="720" cy="680" rx="75" ry="62"/><ellipse cx="790" cy="680" rx="48" ry="42"/><ellipse cx="870" cy="720" rx="85" ry="75"/><ellipse cx="650" cy="810" rx="72" ry="170"/><ellipse cx="790" cy="810" rx="70" ry="155"/><ellipse cx="880" cy="810" rx="65" ry="80"/>
<ellipse cx="1000" cy="700" rx="58" ry="58"/><ellipse cx="1090" cy="700" rx="68" ry="68"/><ellipse cx="1180" cy="700" rx="48" ry="48"/><ellipse cx="1000" cy="790" rx="60" ry="58"/><ellipse cx="1100" cy="830" rx="85" ry="170"/><ellipse cx="1210" cy="800" rx="60" ry="100"/><ellipse cx="1260" cy="720" rx="55" ry="60"/><ellipse cx="1320" cy="710" rx="65" ry="50"/><ellipse cx="1350" cy="770" rx="55" ry="50"/>
</g>
<g fill="#f5c49a" opacity=".5" filter="url(#rg)">
<path d="M150,1030 L190,930 L225,900 L270,870 L320,790 L370,780 L430,790 L490,800 L550,830 L570,920 L500,1030Z"/>
<path d="M580,1030 L600,900 L650,850 L720,800 L790,790 L870,860 L920,920 L880,1030Z"/>
<path d="M990,1020 L1010,930 L1070,860 L1150,790 L1230,740 L1320,740 L1380,780 L1400,880 L1300,1010Z"/>
</g>
<g fill="url(#fl)" filter="url(#rf)" opacity=".85">
<path d="M170,1030 L190,930 L225,900 L270,870 L320,790 L370,780 L430,790 L490,800 L550,830 L570,920 L500,1030Z"/>
<path d="M590,1030 L600,900 L650,850 L720,800 L790,790 L870,860 L920,920 L880,1030Z"/>
<path d="M1000,1020 L1010,930 L1070,860 L1150,790 L1230,740 L1320,740 L1380,780 L1400,880 L1300,1010Z"/>
</g>
<g fill="#fff8e0" opacity=".45">
<ellipse cx="280" cy="1015" rx="130" ry="22"/><ellipse cx="720" cy="1010" rx="130" ry="24"/><ellipse cx="1130" cy="995" rx="130" ry="24"/>
</g>
<g class="k2">
<ellipse cx="158" cy="660" rx="18" ry="38"/><ellipse class="w" cx="267" cy="625" rx="18" ry="12"/><ellipse class="w" cx="400" cy="640" rx="22" ry="15"/><ellipse class="w" cx="335" cy="693" rx="30" ry="20"/><ellipse class="w" cx="103" cy="737" rx="27" ry="19"/><ellipse cx="282" cy="740" rx="15" ry="32"/><ellipse class="w" cx="489" cy="685" rx="25" ry="18"/><ellipse cx="215" cy="778" rx="10" ry="25"/><ellipse class="s" cx="255" cy="787" rx="22" ry="13"/><ellipse class="w" cx="478" cy="758" rx="26" ry="18"/><ellipse cx="305" cy="848" rx="12" ry="35"/><ellipse cx="370" cy="875" rx="20" ry="30"/><ellipse class="w" cx="228" cy="897" rx="25" ry="20"/><ellipse class="w" cx="200" cy="940" rx="20" ry="15"/><ellipse class="s" cx="253" cy="1002" rx="24" ry="16"/><ellipse class="w" cx="640" cy="667" rx="27" ry="20"/><ellipse cx="590" cy="743" rx="15" ry="35"/><ellipse cx="642" cy="755" rx="12" ry="35"/><ellipse class="w" cx="760" cy="660" rx="20" ry="14"/><ellipse cx="878" cy="700" rx="18" ry="33"/><ellipse cx="698" cy="785" rx="9" ry="25"/><ellipse class="w" cx="866" cy="782" rx="26" ry="20"/><ellipse cx="612" cy="848" rx="15" ry="22"/><ellipse cx="702" cy="868" rx="10" ry="25"/><ellipse class="w" cx="928" cy="862" rx="23" ry="20"/><ellipse cx="670" cy="945" rx="20" ry="38"/><ellipse class="s" cx="1008" cy="680" rx="22" ry="16"/><ellipse class="w" cx="1103" cy="690" rx="27" ry="20"/><ellipse class="w" cx="1175" cy="685" rx="22" ry="16"/><ellipse cx="977" cy="770" rx="12" ry="33"/><ellipse cx="1050" cy="765" rx="14" ry="37"/><ellipse cx="1105" cy="775" rx="12" ry="35"/><ellipse cx="1161" cy="805" rx="10" ry="25"/><ellipse cx="1233" cy="862" rx="15" ry="33"/><ellipse class="s" cx="1075" cy="870" rx="22" ry="15"/><ellipse cx="1130" cy="965" rx="20" ry="35"/><ellipse class="w" cx="1330" cy="762" rx="22" ry="17"/>
</g>
<g class="d">
<ellipse cx="160" cy="668" rx="6" ry="8"/><ellipse cx="270" cy="627" rx="5" ry="6"/><ellipse cx="408" cy="641" rx="5" ry="6"/><ellipse cx="345" cy="695" rx="6" ry="8"/><ellipse cx="110" cy="740" rx="6" ry="7"/><ellipse cx="286" cy="748" rx="5" ry="6"/><ellipse cx="495" cy="685" rx="5" ry="6"/><ellipse cx="216" cy="782" rx="4" ry="6"/><ellipse cx="255" cy="790" rx="5" ry="6"/><ellipse cx="484" cy="760" rx="5" ry="6"/><ellipse cx="305" cy="850" rx="5" ry="7"/><ellipse cx="375" cy="880" rx="6" ry="7"/><ellipse cx="232" cy="900" rx="6" ry="7"/><ellipse cx="205" cy="942" rx="5" ry="6"/><ellipse cx="258" cy="1003" rx="5" ry="6"/><ellipse cx="647" cy="670" rx="6" ry="7"/><ellipse cx="590" cy="740" rx="5" ry="7"/><ellipse cx="642" cy="760" rx="5" ry="7"/><ellipse cx="765" cy="660" rx="5" ry="6"/><ellipse cx="880" cy="705" rx="5" ry="6"/><ellipse cx="698" cy="790" rx="4" ry="6"/><ellipse cx="870" cy="782" rx="6" ry="7"/><ellipse cx="612" cy="848" rx="5" ry="6"/><ellipse cx="702" cy="870" rx="4" ry="6"/><ellipse cx="933" cy="865" rx="5" ry="6"/><ellipse cx="672" cy="950" rx="6" ry="8"/><ellipse cx="1012" cy="680" rx="5" ry="6"/><ellipse cx="1110" cy="690" rx="6" ry="7"/><ellipse cx="1178" cy="685" rx="5" ry="6"/><ellipse cx="977" cy="770" rx="5" ry="7"/><ellipse cx="1048" cy="760" rx="5" ry="7"/><ellipse cx="1105" cy="775" rx="5" ry="7"/><ellipse cx="1161" cy="810" rx="4" ry="6"/><ellipse cx="1233" cy="862" rx="5" ry="7"/><ellipse cx="1075" cy="870" rx="5" ry="6"/><ellipse cx="1132" cy="968" rx="6" ry="8"/><ellipse cx="1335" cy="765" rx="5" ry="6"/>
</g>
<g class="g">
<ellipse cx="215" cy="685" rx="11" ry="15"/><ellipse cx="285" cy="657" rx="5" ry="15"/><ellipse cx="183" cy="760" rx="13" ry="10"/><ellipse cx="120" cy="793" rx="11" ry="15"/><ellipse cx="155" cy="868" rx="11" ry="15"/><ellipse class="s" cx="217" cy="833" rx="15" ry="9"/><ellipse cx="370" cy="732" rx="11" ry="15"/><ellipse cx="360" cy="797" rx="11" ry="15"/><ellipse cx="420" cy="765" rx="8" ry="15"/><ellipse cx="432" cy="698" rx="12" ry="10"/><ellipse cx="308" cy="990" rx="11" ry="15"/><ellipse cx="505" cy="620" rx="12" ry="15"/><ellipse cx="545" cy="632" rx="11" ry="16"/><ellipse cx="545" cy="723" rx="12" ry="10"/><ellipse cx="708" cy="684" rx="12" ry="10"/><ellipse cx="762" cy="733" rx="11" ry="15"/><ellipse cx="750" cy="797" rx="11" ry="15"/><ellipse cx="668" cy="863" rx="12" ry="10"/><ellipse cx="702" cy="937" rx="13" ry="15"/><ellipse cx="813" cy="764" rx="8" ry="15"/><ellipse cx="797" cy="866" rx="11" ry="15"/><ellipse cx="728" cy="1002" rx="12" ry="10"/><ellipse cx="1012" cy="858" rx="13" ry="15"/><ellipse cx="1038" cy="924" rx="12" ry="10"/><ellipse cx="1153" cy="740" rx="11" ry="15"/><ellipse cx="1199" cy="808" rx="11" ry="15"/><ellipse cx="1216" cy="705" rx="8" ry="15"/><ellipse cx="1323" cy="690" rx="12" ry="10"/><ellipse cx="1378" cy="740" rx="11" ry="15"/>
</g>
<path class="ln" d="M420,1040 Q700,1025 900,1040 Q1100,1025 1300,1035 Q1470,1030 1480,960 Q1495,930 1505,1005 L1520,990"/>
<path class="ln" d="M200,1070 Q500,1095 750,1065 L1000,1035"/>
<path class="ln" d="M0,1100 Q300,1135 800,1100 Q1100,1095 1480,1080"/>
<path class="ln" d="M300,1150 Q800,1135 1300,1125 L1490,1075"/>
</g>

<!-- text bottom -->
<g font-size="45">
<text x="24" y="630" textLength="298" lengthAdjust="spacingAndGlyphs">Southerly winds</text>
<text x="24" y="680" textLength="155" lengthAdjust="spacingAndGlyphs">(Haze-I)</text>
<text class="it" x="7" y="760" textLength="181" lengthAdjust="spacingAndGlyphs">Regional</text>
<text x="1357" y="662" textLength="300" lengthAdjust="spacingAndGlyphs">Northerly winds</text>
<text x="1357" y="712">(</text>
<text x="1373" y="712" fill="#ff00ff" textLength="138" lengthAdjust="spacingAndGlyphs">Haze-II</text>
<text x="1512" y="712">)</text>
<text class="it" x="1358" y="791" fill="#ff00ff" textLength="436" lengthAdjust="spacingAndGlyphs">Long-range transport</text>
</g>
<path d="M4,709H152" stroke="#000" stroke-width="5"/>
<path d="M147,692 L189,709 L147,726 L156,709Z" fill="#000"/>
<path d="M1577,742H1425" stroke="#000" stroke-width="5"/>
<path d="M1392,742 L1433,726 L1421,742 L1433,759Z" fill="#000"/>
<g font-size="33">
<text x="1198" y="1002" textLength="530" lengthAdjust="spacingAndGlyphs">Agricultural biomass burning emissions</text>
<text x="675" y="1037" textLength="465" lengthAdjust="spacingAndGlyphs">Residential coal burning emissions</text>
<text x="2" y="1011" textLength="214" lengthAdjust="spacingAndGlyphs">Residential coal</text>
<text x="3" y="1036" textLength="243" lengthAdjust="spacingAndGlyphs">burning emissions</text>
<text x="216" y="968" textLength="128" lengthAdjust="spacingAndGlyphs">Industrial</text>
<text x="217" y="997" textLength="131" lengthAdjust="spacingAndGlyphs">emissions</text>
<text x="358" y="1023" textLength="242" lengthAdjust="spacingAndGlyphs">Vehicle emissions</text>
</g>
</svg>
</body></html>
